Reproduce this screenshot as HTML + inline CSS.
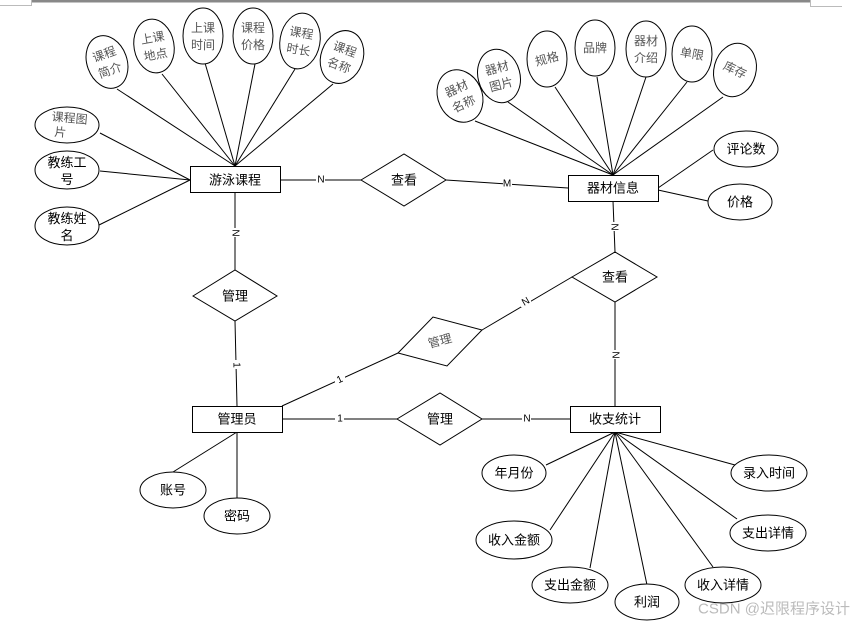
<!DOCTYPE html>
<html><head><meta charset="utf-8"><style>
html,body{margin:0;padding:0;background:#fff;}
svg{display:block;}
text{font-family:"Liberation Sans","Noto Sans CJK SC",sans-serif;text-anchor:middle;dominant-baseline:central;}
.b{font-size:13px;fill:#000;}
.g{font-size:12px;fill:#555;}
.c{font-size:10px;fill:#000;font-family:"Liberation Serif",serif;}
</style></head><body>
<svg width="859" height="627" viewBox="0 0 859 627" xmlns="http://www.w3.org/2000/svg">
<rect x="31" y="0" width="779" height="2.5" fill="#888"/>
<line x1="0" y1="5.5" x2="31" y2="5.5" stroke="#bbb"/><line x1="31.5" y1="0" x2="31.5" y2="6" stroke="#bbb"/>
<line x1="810" y1="6.5" x2="842" y2="6.5" stroke="#bbb"/><line x1="810.5" y1="0" x2="810.5" y2="6" stroke="#bbb"/>
<g stroke="#000" stroke-width="1" fill="none">
<!-- course lines -->
<line x1="117" y1="89" x2="235" y2="166"/><line x1="162" y1="74" x2="235" y2="166"/>
<line x1="205" y1="63" x2="235" y2="166"/><line x1="255" y1="64" x2="235" y2="166"/>
<line x1="295" y1="69" x2="235" y2="166"/><line x1="333" y1="84" x2="235" y2="166"/>
<line x1="100" y1="133" x2="190" y2="180"/><line x1="100" y1="171" x2="190" y2="180"/>
<line x1="99" y1="225" x2="190" y2="180"/>
<line x1="280" y1="180" x2="361" y2="180"/>
<line x1="446" y1="180" x2="568" y2="188"/>
<!-- equipment lines -->
<line x1="475" y1="121" x2="613" y2="175"/><line x1="508" y1="102" x2="613" y2="175"/>
<line x1="555" y1="87" x2="613" y2="175"/><line x1="597" y1="77" x2="613" y2="175"/>
<line x1="646" y1="77" x2="613" y2="175"/><line x1="687" y1="82" x2="613" y2="175"/>
<line x1="723" y1="97" x2="613" y2="175"/>
<line x1="658" y1="188" x2="713" y2="150"/><line x1="658" y1="190" x2="708" y2="201"/>
<line x1="613" y1="201" x2="615" y2="252"/>
<line x1="572" y1="277" x2="482" y2="330"/>
<line x1="398" y1="353" x2="282" y2="406"/>
<line x1="235" y1="192" x2="235" y2="270"/><line x1="235" y1="321" x2="237" y2="406"/>
<line x1="282" y1="419" x2="397" y2="419"/><line x1="482" y1="419" x2="570" y2="419"/>
<line x1="615" y1="302" x2="615" y2="406"/>
<!-- admin attrs -->
<line x1="237" y1="432" x2="173" y2="472"/><line x1="237" y1="432" x2="237" y2="499"/>
<!-- stats attrs -->
<line x1="546" y1="465" x2="615" y2="432"/><line x1="550" y1="530" x2="615" y2="432"/>
<line x1="590" y1="568" x2="615" y2="432"/><line x1="647" y1="585" x2="615" y2="432"/>
<line x1="713" y1="567" x2="615" y2="432"/><line x1="737" y1="519" x2="615" y2="432"/>
<line x1="735" y1="465" x2="615" y2="432"/>
</g>
<g stroke="#000" stroke-width="1" fill="#fff">
<ellipse cx="107" cy="62" rx="20" ry="27" transform="rotate(-20 107 62)"/>
<ellipse cx="154" cy="46" rx="20" ry="27" transform="rotate(-10 154 46)"/>
<ellipse cx="203" cy="36" rx="20" ry="28"/>
<ellipse cx="253" cy="36" rx="20" ry="28"/>
<ellipse cx="300" cy="41" rx="20" ry="28" transform="rotate(10 300 41)"/>
<ellipse cx="342" cy="57" rx="21" ry="27" transform="rotate(20 342 57)"/>
<ellipse cx="67" cy="125" rx="32" ry="18"/>
<ellipse cx="67" cy="170" rx="32" ry="19"/>
<ellipse cx="67" cy="226" rx="32" ry="19"/>
<rect x="190.5" y="166.5" width="90" height="26"/>
<polygon points="361,180 404,154 446,180 404,206"/>
<ellipse cx="460" cy="96" rx="22" ry="27" transform="rotate(-25 460 96)"/>
<ellipse cx="499" cy="76" rx="21" ry="27" transform="rotate(-15 499 76)"/>
<ellipse cx="547" cy="59" rx="20" ry="28"/>
<ellipse cx="595" cy="48" rx="20" ry="28"/>
<ellipse cx="646" cy="49" rx="20" ry="28"/>
<ellipse cx="692" cy="54" rx="20" ry="28"/>
<ellipse cx="735" cy="70" rx="21" ry="27" transform="rotate(15 735 70)"/>
<rect x="568.5" y="175.5" width="90" height="26"/>
<ellipse cx="746" cy="149" rx="32" ry="18"/>
<ellipse cx="740" cy="202" rx="32" ry="18"/>
<polygon points="572,277 615,252 657,277 615,302"/>
<polygon points="398,353 433,317 482,330 447,366"/>
<polygon points="193,296 235,270 277,296 235,321"/>
<rect x="192.5" y="406.5" width="90" height="26"/>
<polygon points="397,419 440,393 482,419 440,445"/>
<rect x="570.5" y="406.5" width="90" height="26"/>
<ellipse cx="173" cy="490" rx="33" ry="18"/>
<ellipse cx="237" cy="516" rx="33" ry="18"/>
<ellipse cx="514" cy="473" rx="32" ry="18"/>
<ellipse cx="514" cy="540" rx="38" ry="19"/>
<ellipse cx="570" cy="585" rx="38" ry="18"/>
<ellipse cx="647" cy="602" rx="32" ry="18"/>
<ellipse cx="723" cy="585" rx="38" ry="18"/>
<ellipse cx="768" cy="533" rx="38" ry="18"/>
<ellipse cx="769" cy="473" rx="38" ry="18"/>
</g>
<!-- cardinalities -->
<g class="c">
<rect x="316" y="175" width="9" height="10" fill="#fff"/><text x="321" y="180">N</text>
<rect x="503" y="179" width="9" height="10" fill="#fff"/><text x="507" y="184">M</text>
<rect x="230" y="228" width="10" height="9" fill="#fff"/><text x="235" y="233" transform="rotate(90 235 233)">N</text>
<rect x="609" y="222" width="10" height="9" fill="#fff"/><text x="614" y="227" transform="rotate(90 614 227)">N</text>
<rect x="521" y="298" width="10" height="9" fill="#fff"/><text x="526" y="302" transform="rotate(-30 526 302)">N</text>
<rect x="232" y="360" width="10" height="9" fill="#fff"/><text x="236" y="365" transform="rotate(90 236 365)">1</text>
<rect x="335" y="375" width="10" height="9" fill="#fff"/><text x="340" y="380" transform="rotate(-25 340 380)">1</text>
<rect x="335" y="414" width="9" height="10" fill="#fff"/><text x="340" y="419">1</text>
<rect x="522" y="414" width="9" height="10" fill="#fff"/><text x="527" y="419">N</text>
<rect x="610" y="350" width="10" height="9" fill="#fff"/><text x="615" y="355" transform="rotate(90 615 355)">N</text>
</g>
<!-- labels -->
<g class="g">
<text transform="translate(107,62) rotate(-20)"><tspan x="0" y="-8">课程</tspan><tspan x="0" y="9">简介</tspan></text>
<text transform="translate(154,46) rotate(-10)"><tspan x="0" y="-8">上课</tspan><tspan x="0" y="9">地点</tspan></text>
<text transform="translate(203,36)"><tspan x="0" y="-8">上课</tspan><tspan x="0" y="9">时间</tspan></text>
<text transform="translate(253,36)"><tspan x="0" y="-8">课程</tspan><tspan x="0" y="9">价格</tspan></text>
<text transform="translate(300,41) rotate(10)"><tspan x="0" y="-8">课程</tspan><tspan x="0" y="9">时长</tspan></text>
<text transform="translate(342,57) rotate(20)"><tspan x="0" y="-8">课程</tspan><tspan x="0" y="9">名称</tspan></text>
<text transform="translate(67,125) rotate(5)"><tspan x="2" y="-7">课程图</tspan><tspan x="-6" y="8">片</tspan></text>
<text transform="translate(460,96) rotate(-25)"><tspan x="0" y="-8">器材</tspan><tspan x="0" y="9">名称</tspan></text>
<text transform="translate(499,76) rotate(-15)"><tspan x="0" y="-8">器材</tspan><tspan x="0" y="9">图片</tspan></text>
<text x="547" y="59" transform="rotate(-15 547 59)">规格</text>
<text x="595" y="48">品牌</text>
<text transform="translate(646,49)"><tspan x="0" y="-8">器材</tspan><tspan x="0" y="9">介绍</tspan></text>
<text x="692" y="54" transform="rotate(10 692 54)">单限</text>
<text x="735" y="70" transform="rotate(25 735 70)">库存</text>
<text x="440" y="341" transform="rotate(-15 440 341)">管理</text>
</g>
<g class="b">
<text transform="translate(67,170)"><tspan x="0" y="-8">教练工</tspan><tspan x="0" y="9">号</tspan></text>
<text transform="translate(67,226)"><tspan x="0" y="-8">教练姓</tspan><tspan x="0" y="9">名</tspan></text>
<text x="235" y="180">游泳课程</text>
<text x="404" y="180">查看</text>
<text x="613" y="188">器材信息</text>
<text x="746" y="149">评论数</text>
<text x="740" y="202">价格</text>
<text x="615" y="277">查看</text>
<text x="235" y="296">管理</text>
<text x="237" y="419">管理员</text>
<text x="440" y="419">管理</text>
<text x="615" y="419">收支统计</text>
<text x="173" y="490">账号</text>
<text x="237" y="516">密码</text>
<text x="514" y="473">年月份</text>
<text x="514" y="540">收入金额</text>
<text x="570" y="585">支出金额</text>
<text x="647" y="602">利润</text>
<text x="723" y="585">收入详情</text>
<text x="768" y="533">支出详情</text>
<text x="769" y="473">录入时间</text>
</g>
<text x="774" y="609" style="font-size:15px;fill:#bbb;">CSDN @迟限程序设计</text>
</svg>
</body></html>
